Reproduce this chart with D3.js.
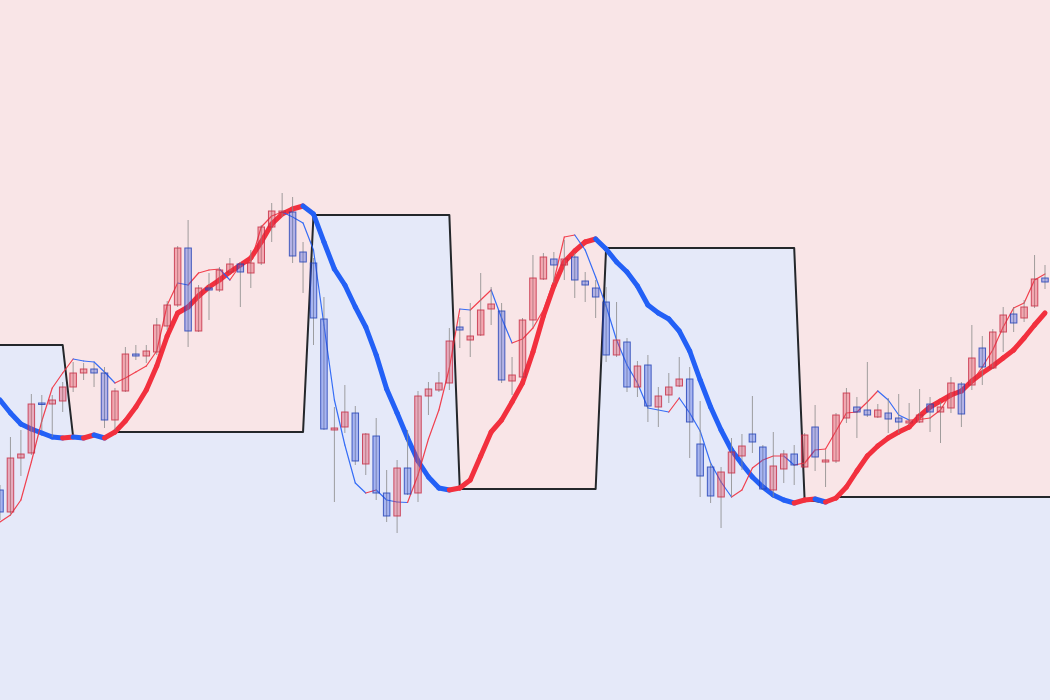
<!DOCTYPE html>
<html>
<head>
<meta charset="utf-8">
<script src="https://cdn.jsdelivr.net/npm/d3@7"></script>
<style>
  html, body { margin: 0; padding: 0; background: #fff; }
  svg { display: block; }
</style>
</head>
<body>
<svg id="chart" width="1050" height="700"></svg>
<script>
'use strict';

// OHLC per bar
var opens = [142.0,137.6,148.4,149.4,159.4,159.2,159.8,162.6,165.4,166.2,165.4,156.0,161.8,169.2,168.8,169.6,174.8,179.0,190.4,173.8,
  182.4,182.0,185.6,187.2,185.4,187.4,194.6,197.6,197.6,189.6,187.4,176.2,154.0,154.6,157.4,147.2,152.8,141.4,136.8,146.4,
  141.4,160.8,162.0,163.4,174.6,172.0,173.0,178.2,177.8,163.8,164.6,176.0,184.2,188.2,187.0,188.6,183.8,182.4,179.6,169.0,
  171.6,162.6,167.0,158.6,161.0,162.8,164.2,151.2,146.6,140.6,145.4,148.8,153.2,150.6,142.0,146.2,149.2,146.6,154.6,147.6,
  147.8,156.4,158.6,158.0,156.6,157.4,156.4,155.4,155.6,159.2,157.6,158.4,163.2,163.0,170.4,166.4,173.6,177.2,176.4,178.8,184.4];
var highs = [143.0,152.6,154.0,161.2,161.0,161.0,163.6,167.6,167.4,167.4,166.6,162.4,170.6,171.0,171.0,176.4,179.8,190.8,196.0,183.0,
  185.4,186.6,188.4,187.6,190.0,195.0,199.4,201.4,200.6,191.6,188.4,180.6,158.6,163.0,158.8,153.4,156.4,146.0,148.0,154.0,
  161.8,163.6,165.6,174.4,176.6,179.4,185.4,182.6,179.4,168.6,176.4,189.0,189.4,189.6,192.0,189.4,185.6,184.0,182.6,179.6,
  172.4,167.8,169.0,162.6,165.4,168.6,166.6,159.8,147.4,146.6,152.4,153.2,160.8,151.0,153.6,150.0,151.0,153.4,159.0,150.0,
  157.4,162.4,160.6,167.6,159.2,160.4,161.2,159.4,162.2,160.6,159.6,164.6,163.6,175.0,172.8,174.2,178.6,178.6,180.0,189.0,187.0];
var lows = [136.0,137.0,144.8,149.0,154.0,152.6,157.6,161.6,164.0,162.6,154.4,154.0,161.6,168.0,167.4,169.0,174.0,178.6,170.6,173.6,
  176.0,181.6,185.4,178.6,182.4,187.0,191.6,196.6,187.4,181.4,171.0,154.0,139.6,153.4,147.0,145.0,140.0,135.6,133.4,141.0,
  139.6,157.0,161.6,162.0,170.4,168.6,172.8,175.0,163.4,161.0,164.4,174.6,184.0,183.4,184.0,180.4,179.6,176.4,167.6,168.6,
  161.6,160.6,155.6,154.6,159.4,162.6,148.4,140.6,139.4,134.4,140.6,146.0,149.4,142.0,140.6,143.4,143.0,146.4,145.8,142.6,
  147.4,155.4,152.4,156.6,156.4,153.4,153.4,155.0,155.4,153.6,151.4,157.4,154.6,162.0,163.0,166.2,169.6,173.6,175.6,178.4,182.2];
var closes = [137.6,148.4,149.2,159.2,159.2,160.0,162.6,165.4,166.2,165.4,156.0,161.8,169.2,168.8,169.8,175.0,179.0,190.4,173.8,182.4,
  182.0,186.0,187.2,185.6,187.4,194.6,197.8,197.8,188.8,187.6,176.4,154.2,154.4,157.6,147.8,153.2,141.4,136.8,146.4,141.2,
  160.8,162.2,163.4,171.8,174.0,172.8,178.0,179.2,164.0,165.0,176.0,184.4,188.6,187.0,188.2,184.0,183.0,180.6,169.0,172.0,
  162.6,166.8,158.8,160.8,162.6,164.2,155.6,144.8,140.8,145.6,149.6,150.8,151.6,142.2,146.8,149.2,147.0,153.0,148.6,148.0,
  157.0,161.4,157.6,157.0,158.0,156.2,155.6,155.8,157.0,157.6,158.6,163.4,157.2,168.4,166.6,173.6,177.0,175.4,178.6,184.2,183.6];

// fast average (thin line)
var fastLine = [135.6,137.0,140.0,147.6,155.8,162.4,165.4,168.2,167.8,167.6,165.6,163.4,164.4,165.6,166.8,169.8,179.0,183.4,183.0,185.4,
  186.0,186.2,184.0,187.0,187.6,194.6,196.8,197.6,196.6,195.4,190.0,175.0,160.0,151.0,143.4,141.4,142.0,140.0,139.6,139.5,
  145.0,152.2,158.0,166.4,178.2,178.0,180.0,182.0,176.4,171.4,172.2,174.4,178.0,183.8,192.6,193.0,190.0,184.6,178.8,172.0,
  167.0,163.4,158.4,158.0,157.6,160.4,157.4,153.8,147.4,143.6,140.6,142.0,146.4,148.0,148.8,148.8,147.0,147.4,150.0,150.2,
  153.8,157.4,157.6,159.6,161.8,160.0,157.0,156.0,156.1,156.4,158.0,161.4,161.4,163.6,166.6,170.0,174.6,178.4,179.4,184.0,185.2];

// slow average (thick line)
var slowLine = [160.0,157.4,155.2,154.2,153.4,152.6,152.4,152.6,152.4,153.0,152.4,153.6,155.8,158.6,162.0,166.8,172.8,177.4,178.6,180.8,
  182.6,184.0,185.6,187.0,188.4,191.6,195.2,197.2,198.2,198.8,197.2,191.6,186.2,183.0,178.6,174.6,169.0,162.2,157.4,152.4,
  147.8,144.6,142.4,142.0,142.4,144.0,148.8,153.6,156.0,159.6,163.4,169.6,176.8,182.8,187.6,189.8,191.6,192.2,190.2,187.6,
  185.6,182.8,179.0,177.4,176.2,173.8,169.8,164.0,158.6,154.0,150.0,147.2,144.6,142.6,141.0,140.0,139.4,140.0,140.2,139.6,
  140.4,142.6,145.8,148.8,150.8,152.4,153.6,154.6,156.8,158.6,159.8,161.0,161.8,163.8,165.4,166.8,168.4,170.0,172.4,175.0,177.4];

// trailing stop level (black line)
var stopLine = [171.0,171.0,171.0,171.0,171.0,171.0,171.0,152.6,152.6,153.0,152.4,153.6,153.6,153.6,153.6,153.6,153.6,153.6,153.6,153.6,
  153.6,153.6,153.6,153.6,153.6,153.6,153.6,153.6,153.6,153.6,197.0,197.0,197.0,197.0,197.0,197.0,197.0,197.0,197.0,197.0,
  197.0,197.0,197.0,197.0,142.2,142.2,142.2,142.2,142.2,142.2,142.2,142.2,142.2,142.2,142.2,142.2,142.2,142.2,190.4,190.4,
  190.4,190.4,190.4,190.4,190.4,190.4,190.4,190.4,190.4,190.4,190.4,190.4,190.4,190.4,190.4,190.4,190.4,139.8,139.8,139.4,
  140.6,140.6,140.6,140.6,140.6,140.6,140.6,140.6,140.6,140.6,140.6,140.6,140.6,140.6,140.6,140.6,140.6,140.6,140.6,140.6,140.6];

var width = 1050, height = 700;
var UP = '#f2303e', DOWN = '#2360f6';

var svg = d3.select('#chart');
var n = closes.length;

var x = d3.scaleLinear().domain([0, n - 1]).range([0, 1045]);
var y = d3.scaleLinear().domain([100, 240]).range([height, 0]);

// background: pink above the stop line, blue below
svg.append('rect')
    .attr('width', width).attr('height', height)
    .attr('fill', '#f9e5e7');

var stopPts = stopLine.map(function(v, i) { return [i, v]; });
stopPts.push([n - 1 + 0.6, stopLine[n - 1]]);

svg.append('path')
    .datum(stopPts)
    .attr('fill', '#e5e9f9')
    .attr('d', d3.area()
        .x(function(d) { return x(d[0]); })
        .y0(height)
        .y1(function(d) { return y(d[1]); }));

svg.append('path')
    .datum(stopPts)
    .attr('fill', 'none')
    .attr('stroke', '#24272b')
    .attr('stroke-width', 2)
    .attr('stroke-linejoin', 'round')
    .attr('d', d3.line()
        .x(function(d) { return x(d[0]); })
        .y(function(d) { return y(d[1]); }));

// line coloured by direction of each step
function drawTrendLine(values, strokeWidth, opacity) {
    var g = svg.append('g').attr('opacity', opacity);
    var seg = d3.line()
        .x(function(d) { return x(d[0]); })
        .y(function(d) { return y(d[1]); });
    for (var i = 0; i < values.length - 1; i++) {
        g.append('path')
            .attr('d', seg([[i, values[i]], [i + 1, values[i + 1]]]))
            .attr('fill', 'none')
            .attr('stroke', values[i + 1] >= values[i] ? UP : DOWN)
            .attr('stroke-width', strokeWidth)
            .attr('stroke-linecap', 'round');
    }
}

drawTrendLine(slowLine, 5, 1);
drawTrendLine(fastLine, 1.2, 0.9);

// candles
var bars = d3.range(n).map(function(i) {
    return { i: i, o: opens[i], h: highs[i], l: lows[i], c: closes[i] };
});
var bodyW = 6.5;

var candle = svg.append('g').selectAll('g')
    .data(bars)
    .enter().append('g');

candle.append('line')
    .attr('x1', function(d) { return x(d.i); })
    .attr('x2', function(d) { return x(d.i); })
    .attr('y1', function(d) { return y(d.h); })
    .attr('y2', function(d) { return y(d.l); })
    .attr('stroke', '#8a8a8a')
    .attr('stroke-opacity', 0.8)
    .attr('stroke-width', 1);

candle.append('rect')
    .attr('x', function(d) { return x(d.i) - bodyW / 2; })
    .attr('width', bodyW)
    .attr('y', function(d) { return y(Math.max(d.o, d.c)); })
    .attr('height', function(d) { return Math.max(1.5, Math.abs(y(d.o) - y(d.c))); })
    .attr('fill', function(d) { return d.c >= d.o ? 'rgba(232,60,82,0.36)' : 'rgba(58,88,228,0.36)'; })
    .attr('stroke', function(d) { return d.c >= d.o ? '#c42a42' : '#1f3fb4'; })
    .attr('stroke-opacity', 0.8)
    .attr('stroke-width', 1);
</script>
</body>
</html>
